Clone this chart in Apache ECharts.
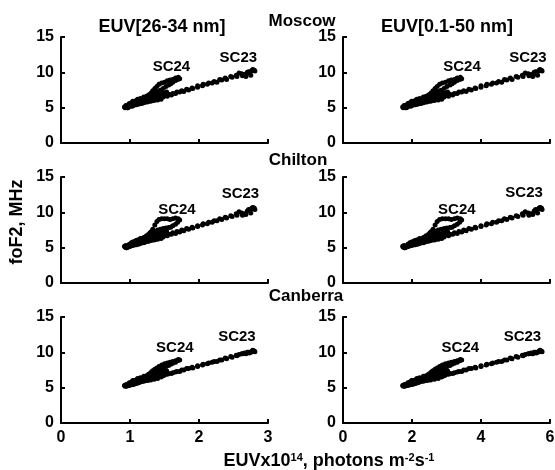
<!DOCTYPE html>
<html>
<head>
<meta charset="utf-8">
<script src="https://cdn.jsdelivr.net/npm/echarts@6/dist/echarts.min.js"></script>
<style>
    html, body { margin: 0; padding: 0; background: #fff; }
    #chart { width: 555px; height: 470px; }
</style>
</head>
<body>
<div id="chart"></div>
<script>
// one value per time step, 1996 -> 2014
// (SC23 min, rise, max, decline, SC24 min, 2009-10 noise, SC24 rise, SC24 max)
// EUV flux, x10^14 photons m^-2 s^-1
const euv2634 = [
    0.93, 0.95, 0.97, 0.99, 1.00, 0.96, 1.02, 1.04, 1.06, 1.08, 1.05, 1.10, 1.12, 1.14,
    1.17, 1.21, 1.25, 1.30, 1.34, 1.39, 1.44, 1.50, 1.56, 1.62, 1.68, 1.75, 1.82, 1.90, 1.98, 2.06, 2.14, 2.22, 2.30, 2.38, 2.46, 2.54, 2.62, 2.70,
    2.76, 2.80, 2.73, 2.68, 2.78, 2.58, 2.75, 2.81, 2.66, 2.72, 2.63, 2.77,
    2.55, 2.48, 2.40, 2.33, 2.26, 2.19, 2.12, 2.05, 1.98, 1.91, 1.85, 1.78, 1.72, 1.66, 1.60, 1.54, 1.48, 1.42, 1.37, 1.32, 1.27, 1.22, 1.17, 1.12, 1.08,
    1.04, 1.00, 0.97, 0.95, 0.93, 0.92, 0.94, 0.96, 0.98, 1.01, 1.03, 1.06, 1.09, 1.11, 1.13,
    0.99, 1.02, 1.04, 1.07, 1.09, 1.11, 1.13, 1.15, 1.18, 1.20, 1.23, 1.25, 1.28, 1.30, 1.33, 1.35, 1.38, 1.41, 1.44, 1.47, 1.50, 1.53,
    1.15, 1.20, 1.25, 1.30, 1.35, 1.40, 1.45,
    1.16, 1.19, 1.22, 1.24, 1.27, 1.20, 1.29, 1.31, 1.33, 1.36, 1.39, 1.42, 1.46, 1.50, 1.54, 1.58, 1.62, 1.66, 1.70, 1.72,
    1.69, 1.66, 1.62, 1.59, 1.56, 1.52, 1.48, 1.44, 1.40, 1.36, 1.32, 1.28, 1.25
];
const euv0150 = [
    1.75, 1.79, 1.84, 1.88, 1.90, 1.81, 1.94, 1.99, 2.03, 2.07, 2.01, 2.11, 2.16, 2.20,
    2.26, 2.35, 2.43, 2.54, 2.63, 2.73, 2.84, 2.97, 3.10, 3.23, 3.36, 3.50, 3.65, 3.83, 4.00, 4.17, 4.34, 4.51, 4.68, 4.85, 5.02, 5.20, 5.37, 5.54,
    5.67, 5.75, 5.60, 5.50, 5.71, 5.28, 5.64, 5.77, 5.45, 5.58, 5.39, 5.69,
    5.22, 5.07, 4.90, 4.75, 4.60, 4.45, 4.30, 4.15, 4.00, 3.85, 3.72, 3.57, 3.44, 3.31, 3.18, 3.06, 2.93, 2.80, 2.69, 2.58, 2.48, 2.37, 2.26, 2.16, 2.07,
    1.99, 1.90, 1.84, 1.79, 1.75, 1.73, 1.77, 1.81, 1.86, 1.92, 1.96, 2.03, 2.09, 2.14, 2.18,
    1.88, 1.94, 1.99, 2.05, 2.09, 2.14, 2.18, 2.22, 2.29, 2.33, 2.39, 2.43, 2.50, 2.54, 2.61, 2.65, 2.71, 2.78, 2.84, 2.91, 2.97, 3.03,
    2.22, 2.33, 2.43, 2.54, 2.65, 2.76, 2.86,
    2.24, 2.31, 2.37, 2.41, 2.48, 2.33, 2.52, 2.56, 2.61, 2.67, 2.73, 2.80, 2.88, 2.97, 3.06, 3.14, 3.23, 3.31, 3.40, 3.44,
    3.38, 3.31, 3.23, 3.16, 3.10, 3.01, 2.93, 2.84, 2.76, 2.67, 2.58, 2.50, 2.43
];
// foF2, MHz
const foF2Moscow = [
    5.1, 5.2, 5.0, 5.3, 5.4, 5.3, 5.5, 5.3, 5.6, 5.7, 5.5, 5.8, 5.6, 5.9,
    5.8, 5.9, 6.1, 6.1, 6.3, 6.4, 6.5, 6.7, 6.9, 7.0, 7.2, 7.4, 7.6, 7.8, 8.1, 8.3, 8.5, 8.7, 9.0, 9.2, 9.4, 9.6, 9.8, 10.0,
    10.2, 10.3, 9.9, 9.4, 10.4, 9.9, 9.6, 10.2, 9.7, 10.1, 9.5, 10.3,
    9.4, 9.3, 9.0, 8.9, 8.6, 8.5, 8.3, 8.1, 7.9, 7.7, 7.5, 7.3, 7.2, 7.0, 6.8, 6.6, 6.5, 6.3, 6.2, 6.0, 5.9, 5.8, 5.6, 5.5, 5.4,
    5.3, 5.2, 5.1, 5.2, 5.0, 5.1, 5.3, 5.0, 5.3, 5.4, 5.2, 5.5, 5.4, 5.6, 5.7,
    5.6, 5.7, 5.9, 5.8, 6.0, 6.2, 6.0, 6.3, 6.1, 6.3, 6.1, 6.5, 6.3, 6.6, 6.4, 6.8, 6.6, 6.9, 6.8, 7.1, 7.0, 7.2,
    5.6, 5.7, 5.8, 5.9, 6.0, 6.1, 6.2,
    6.0, 6.2, 6.4, 6.6, 6.8, 6.5, 6.9, 7.1, 7.4, 7.7, 8.0, 8.3, 8.5, 8.6, 8.8, 8.9, 9.0, 9.2, 9.3, 9.1,
    9.0, 8.85, 8.6, 8.4, 8.2, 8.0, 7.7, 7.45, 7.3, 7.1, 6.9, 6.7, 6.5
];
const foF2Chilton = [
    5.1, 5.0, 5.2, 5.3, 5.2, 5.1, 5.4, 5.5, 5.4, 5.6, 5.7, 5.6, 5.8, 5.9,
    5.8, 5.9, 6.0, 6.2, 6.3, 6.4, 6.6, 6.8, 6.9, 7.1, 7.3, 7.5, 7.7, 7.9, 8.1, 8.4, 8.6, 8.8, 9.1, 9.3, 9.5, 9.8, 9.9, 10.2,
    10.5, 10.6, 10.3, 9.7, 10.7, 10.1, 9.9, 10.4, 9.8, 10.4, 9.6, 10.6,
    9.6, 9.4, 9.2, 9.0, 8.8, 8.6, 8.4, 8.2, 8.0, 7.8, 7.6, 7.4, 7.2, 7.0, 6.9, 6.7, 6.5, 6.4, 6.2, 6.1, 5.9, 5.8, 5.7, 5.5, 5.4,
    5.3, 5.2, 5.1, 5.0, 5.1, 5.2, 5.3, 5.1, 5.2, 5.4, 5.3, 5.5, 5.4, 5.6, 5.7,
    5.5, 5.7, 5.8, 5.9, 6.0, 6.1, 6.1, 6.3, 6.2, 6.4, 6.2, 6.5, 6.4, 6.7, 6.5, 6.8, 6.7, 7.0, 6.9, 7.1, 7.1, 7.3,
    5.6, 5.7, 5.9, 6.0, 6.1, 6.2, 6.3,
    6.0, 6.3, 6.5, 6.7, 6.9, 6.4, 7.1, 7.3, 7.6, 8.2, 8.7, 9.0, 9.1, 9.1, 9.1, 9.0, 9.1, 9.2, 9.1, 8.9,
    8.6, 8.3, 8.1, 7.9, 7.85, 7.8, 7.7, 7.6, 7.5, 7.3, 7.0, 6.7, 6.5
];
const foF2Canberra = [
    5.3, 5.2, 5.4, 5.3, 5.5, 5.4, 5.5, 5.6, 5.5, 5.7, 5.6, 5.8, 5.7, 5.9,
    5.9, 6.0, 6.2, 6.3, 6.4, 6.5, 6.7, 6.8, 7.0, 7.1, 7.3, 7.5, 7.7, 7.9, 8.1, 8.3, 8.5, 8.7, 8.9, 9.2, 9.4, 9.6, 9.8, 10.0,
    10.1, 10.2, 9.9, 9.8, 10.3, 9.7, 10.0, 10.1, 9.9, 10.0, 9.8, 10.2,
    9.5, 9.3, 9.1, 8.9, 8.7, 8.6, 8.4, 8.2, 8.0, 7.8, 7.7, 7.5, 7.3, 7.2, 7.0, 6.9, 6.7, 6.6, 6.4, 6.3, 6.1, 6.0, 5.9, 5.7, 5.6,
    5.5, 5.4, 5.3, 5.4, 5.2, 5.3, 5.4, 5.3, 5.5, 5.5, 5.4, 5.6, 5.6, 5.7, 5.8,
    5.7, 5.8, 6.0, 6.0, 6.1, 6.3, 6.2, 6.4, 6.3, 6.5, 6.4, 6.6, 6.6, 6.8, 6.7, 7.0, 6.9, 7.1, 7.0, 7.3, 7.2, 7.4,
    5.8, 5.9, 6.0, 6.1, 6.2, 6.3, 6.5,
    6.1, 6.3, 6.5, 6.7, 6.9, 6.6, 7.0, 7.2, 7.4, 7.6, 7.8, 8.0, 8.2, 8.4, 8.5, 8.6, 8.7, 8.8, 9.0, 8.9,
    8.8, 8.6, 8.45, 8.3, 8.15, 8.0, 7.8, 7.6, 7.45, 7.25, 7.05, 6.85, 6.6
];

const stations = ['Moscow', 'Chilton', 'Canberra'];
const stationFoF2 = [foF2Moscow, foF2Chilton, foF2Canberra];
const bands = ['EUV[26-34 nm]', 'EUV[0.1-50 nm]'];
const bandEuv = [euv2634, euv0150];
const xMax = [3, 6];
const xStep = [1, 2];
// where the cycle names sit, data units [x, y], per row then column
const sc24At = [[[1.60, 10.75], [3.45, 10.75]], [[1.68, 10.4], [3.30, 10.4]], [[1.65, 10.6], [3.40, 10.6]]];
const sc23At = [[[2.57, 12.0], [5.36, 12.0]], [[2.60, 12.6], [5.25, 12.7]], [[2.55, 12.2], [5.20, 12.2]]];

const FONT = '"Liberation Sans", Arial, sans-serif';
const rowTop = [37, 177, 317];
const colLeft = [61, 343];

var chart = echarts.init(document.getElementById('chart'), null, { renderer: 'canvas' });

var grids = [], xAxes = [], yAxes = [], series = [];
stations.forEach(function (st, r) {
    bands.forEach(function (b, c) {
        var i = grids.length;
        grids.push({ left: colLeft[c], top: rowTop[r], width: 207, height: 106, outerBoundsMode: 'none' });
        var axisLine = { show: true, onZero: false, lineStyle: { color: '#000', width: 2 } };
        var axisTick = { show: true, inside: true, length: 4, lineStyle: { color: '#000', width: 2 } };
        xAxes.push({
            type: 'value', gridIndex: i, min: 0, max: xMax[c], interval: xStep[c],
            axisLine: axisLine, axisTick: axisTick, splitLine: { show: false },
            axisLabel: { show: r === 2, color: '#000', fontSize: 16, fontWeight: 'bold', fontFamily: FONT, margin: 7 }
        });
        yAxes.push({
            type: 'value', gridIndex: i, min: 0, max: 15, interval: 5,
            axisLine: axisLine, axisTick: axisTick, splitLine: { show: false },
            axisLabel: { color: '#000', fontSize: 16, fontWeight: 'bold', fontFamily: FONT, margin: 7 }
        });
        var xs = bandEuv[c], ys = stationFoF2[r];
        series.push({
            type: 'scatter', xAxisIndex: i, yAxisIndex: i,
            symbol: 'circle', symbolSize: 5,
            itemStyle: { color: '#000', opacity: 1 },
            data: xs.map(function (x, k) { return [x, ys[k]]; }),
            silent: true
        });
        series.push({
            type: 'scatter', xAxisIndex: i, yAxisIndex: i, symbolSize: 0, silent: true,
            itemStyle: { opacity: 1 },
            data: [sc24At[r][c].concat('SC24'), sc23At[r][c].concat('SC23')],
            label: {
                show: true, position: 'inside', color: '#000',
                fontSize: 15, fontWeight: 'bold', fontFamily: FONT,
                formatter: function (p) { return p.data[2]; }
            }
        });
    });
});

function txt(text, x, y, size, extra) {
    var el = {
        type: 'text', x: x, y: y, silent: true,
        style: {
            text: text, fill: '#000', font: 'bold ' + size + 'px ' + FONT,
            align: 'center', verticalAlign: 'middle'
        }
    };
    return Object.assign(el, extra || {});
}

var graphics = [
    txt(bands[0], 162, 27, 18),
    txt(bands[1], 447, 27, 18),
    txt(stations[0], 302, 21, 17),
    txt(stations[1], 298, 160, 17),
    txt(stations[2], 306, 296, 17),
    txt('foF2, MHz', 17, 222, 18, { rotation: Math.PI / 2 })
];
var xName = txt('EUVx10{sup|14}, photons m{sup|-2}s{sup|-1}', 329, 461, 18);
xName.style.rich = { sup: { font: 'bold 11px ' + FONT, verticalAlign: 'top' } };
graphics.push(xName);

var option = {
    animation: false,
    backgroundColor: '#fff',
    grid: grids,
    xAxis: xAxes,
    yAxis: yAxes,
    series: series,
    graphic: { elements: graphics }
};
option && chart.setOption(option);
</script>
</body>
</html>
